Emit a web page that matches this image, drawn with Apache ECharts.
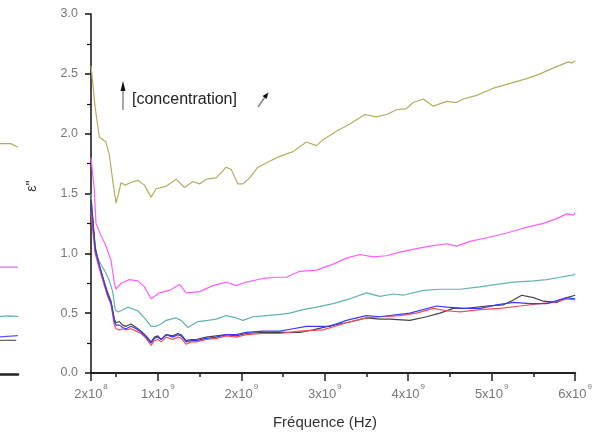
<!DOCTYPE html>
<html>
<head>
<meta charset="utf-8">
<script src="https://cdn.jsdelivr.net/npm/echarts@6/dist/echarts.min.js"></script>
<style>
  html, body { margin: 0; padding: 0; background: #fff; }
  #chart { width: 595px; height: 433px; }
</style>
</head>
<body>
<div id="chart"></div>
<script>
// Dielectric loss ε'' versus frequency (GHz), one curve per concentration.
// Each curve: [frequency in GHz, ε''].
const olive = [[0.2,2.57],[0.25,2.22],[0.30,1.97],[0.38,1.93],[0.42,1.82],[0.46,1.61],[0.50,1.42],[0.53,1.50],[0.56,1.59],[0.61,1.57],[0.67,1.59],[0.76,1.61],[0.84,1.57],[0.92,1.47],[0.98,1.54],[1.04,1.55],[1.10,1.56],[1.16,1.59],[1.22,1.62],[1.32,1.55],[1.42,1.60],[1.50,1.58],[1.58,1.62],[1.70,1.63],[1.82,1.72],[1.88,1.70],[1.96,1.58],[2.02,1.58],[2.10,1.63],[2.20,1.72],[2.34,1.77],[2.46,1.81],[2.62,1.85],[2.78,1.93],[2.90,1.90],[2.98,1.95],[3.14,2.02],[3.30,2.08],[3.48,2.16],[3.62,2.14],[3.74,2.16],[3.86,2.20],[3.98,2.21],[4.06,2.26],[4.18,2.29],[4.30,2.23],[4.46,2.27],[4.58,2.26],[4.66,2.29],[4.82,2.32],[5.02,2.38],[5.22,2.42],[5.42,2.46],[5.58,2.50],[5.74,2.55],[5.92,2.60],[5.96,2.59],[6.0,2.61]];
const magenta = [[0.2,1.80],[0.24,1.53],[0.26,1.25],[0.32,1.15],[0.38,1.06],[0.44,0.94],[0.48,0.75],[0.50,0.70],[0.56,0.75],[0.66,0.78],[0.76,0.77],[0.84,0.72],[0.92,0.62],[1.02,0.67],[1.14,0.69],[1.26,0.74],[1.34,0.67],[1.50,0.68],[1.66,0.73],[1.82,0.76],[1.94,0.73],[2.06,0.76],[2.26,0.79],[2.42,0.80],[2.54,0.80],[2.70,0.85],[2.90,0.86],[3.10,0.91],[3.26,0.96],[3.42,0.99],[3.58,0.97],[3.74,0.98],[3.90,1.01],[4.10,1.04],[4.26,1.06],[4.46,1.08],[4.58,1.06],[4.74,1.10],[4.94,1.13],[5.18,1.17],[5.38,1.21],[5.62,1.25],[5.78,1.29],[5.90,1.33],[5.98,1.32],[6.0,1.34]];
const teal = [[0.2,1.50],[0.23,1.20],[0.26,1.00],[0.30,0.93],[0.36,0.86],[0.42,0.77],[0.46,0.68],[0.49,0.53],[0.52,0.51],[0.56,0.52],[0.64,0.55],[0.76,0.52],[0.84,0.46],[0.92,0.39],[0.98,0.39],[1.04,0.41],[1.10,0.44],[1.22,0.46],[1.28,0.44],[1.36,0.38],[1.48,0.43],[1.60,0.44],[1.70,0.45],[1.82,0.48],[1.94,0.46],[2.02,0.44],[2.14,0.47],[2.30,0.48],[2.46,0.49],[2.58,0.50],[2.74,0.53],[2.90,0.55],[3.10,0.58],[3.30,0.62],[3.50,0.67],[3.66,0.64],[3.82,0.66],[3.94,0.65],[4.18,0.69],[4.38,0.70],[4.62,0.70],[4.86,0.72],[5.06,0.74],[5.26,0.76],[5.50,0.77],[5.66,0.78],[5.82,0.80],[5.98,0.82],[6.0,0.83]];
const black = [[0.2,1.45],[0.22,1.30],[0.25,1.05],[0.30,0.90],[0.36,0.76],[0.40,0.67],[0.44,0.60],[0.48,0.45],[0.50,0.42],[0.54,0.43],[0.58,0.40],[0.62,0.39],[0.68,0.41],[0.74,0.38],[0.80,0.35],[0.86,0.31],[0.92,0.26],[0.96,0.30],[1.00,0.31],[1.04,0.28],[1.10,0.32],[1.18,0.31],[1.24,0.33],[1.28,0.32],[1.34,0.27],[1.40,0.28],[1.46,0.28],[1.58,0.30],[1.70,0.31],[1.82,0.32],[1.94,0.31],[2.06,0.33],[2.26,0.34],[2.42,0.34],[2.56,0.34],[2.70,0.34],[2.86,0.36],[3.10,0.40],[3.26,0.42],[3.50,0.46],[3.66,0.45],[3.78,0.45],[4.02,0.44],[4.22,0.47],[4.38,0.50],[4.54,0.54],[4.70,0.54],[4.94,0.56],[5.14,0.57],[5.26,0.61],[5.36,0.65],[5.50,0.63],[5.62,0.60],[5.78,0.59],[5.90,0.63],[6.0,0.65]];
const red = [[0.2,1.35],[0.22,1.20],[0.25,1.00],[0.30,0.87],[0.36,0.73],[0.40,0.64],[0.44,0.57],[0.48,0.40],[0.50,0.37],[0.54,0.36],[0.58,0.37],[0.62,0.36],[0.68,0.37],[0.74,0.35],[0.80,0.33],[0.86,0.29],[0.92,0.23],[0.96,0.27],[1.00,0.28],[1.04,0.26],[1.10,0.30],[1.18,0.28],[1.24,0.30],[1.28,0.29],[1.34,0.24],[1.40,0.26],[1.46,0.26],[1.58,0.28],[1.70,0.29],[1.82,0.31],[1.94,0.30],[2.06,0.32],[2.26,0.33],[2.46,0.33],[2.70,0.35],[2.98,0.36],[3.26,0.42],[3.50,0.46],[3.66,0.47],[3.90,0.48],[4.10,0.50],[4.30,0.54],[4.46,0.52],[4.62,0.51],[4.86,0.53],[5.10,0.54],[5.34,0.56],[5.58,0.58],[5.74,0.59],[5.90,0.62],[6.0,0.61]];
const blue = [[0.2,1.40],[0.22,1.28],[0.25,1.03],[0.30,0.90],[0.36,0.75],[0.40,0.65],[0.44,0.59],[0.48,0.43],[0.50,0.40],[0.54,0.40],[0.58,0.38],[0.62,0.37],[0.68,0.39],[0.74,0.37],[0.80,0.34],[0.86,0.30],[0.92,0.25],[0.96,0.29],[1.00,0.30],[1.04,0.28],[1.10,0.32],[1.18,0.30],[1.24,0.32],[1.28,0.31],[1.34,0.26],[1.40,0.27],[1.46,0.27],[1.58,0.29],[1.70,0.30],[1.82,0.32],[1.94,0.32],[2.06,0.34],[2.26,0.35],[2.46,0.35],[2.62,0.37],[2.78,0.39],[3.06,0.39],[3.26,0.44],[3.50,0.48],[3.66,0.47],[4.02,0.50],[4.34,0.56],[4.46,0.55],[4.66,0.54],[4.86,0.54],[5.06,0.57],[5.26,0.59],[5.46,0.58],[5.66,0.58],[5.90,0.63],[6.0,0.62]];

// Right-hand ends of the neighbouring panel's curves.
const sideOlive = [[0,1.92],[0.6,1.92],[1,1.89]];
const sideMagenta = [[0,0.89],[1,0.89]];
const sideTeal = [[0,0.48],[0.5,0.485],[1,0.48]];
const sideBlue = [[0,0.31],[1,0.32]];
const sideGray = [[0,0.28],[0.9,0.28]];

// Axis ticks (GHz) and labels.
const majorTicks = [0.2, 1, 2, 3, 4, 5, 6];
const minorTicks = [0.5, 1.5, 2.5, 3.5, 4.5, 5.5];
const xTitle = 'Fréquence (Hz)';
const yTitle = "ε''";
const noteText = '[concentration]';

const FONT = 'Liberation Sans, Arial, sans-serif';
const chart = echarts.init(document.getElementById('chart'), null, { renderer: 'canvas' });

function line(name, data, color, xi, yi) {
  return {
    name, type: 'line', data, xAxisIndex: xi || 0, yAxisIndex: yi || 0,
    showSymbol: false, symbol: 'none', smooth: false, silent: true,
    lineStyle: { color, width: 1.2 }
  };
}

chart.setOption({
  animation: false,
  backgroundColor: '#fff',
  grid: [
    { left: 91, right: 17, top: 14, bottom: 60 },
    { left: 0, width: 18, top: 14, bottom: 59 }
  ],
  xAxis: [
    {
      type: 'value', gridIndex: 0, min: 0.2, max: 6,
      axisLine: { show: true, onZero: false, lineStyle: { color: '#222', width: 2 } },
      axisTick: { show: true, inside: false, length: 8, customValues: majorTicks, lineStyle: { color: '#222', width: 1.5 } },
      axisLabel: {
        customValues: majorTicks, margin: 10, color: '#777', fontFamily: FONT, fontSize: 13, lineHeight: 22,
        formatter: v => (Math.abs(v - 0.2) < 1e-9 ? '{n|2x10}{s|8}' : '{n|' + Math.round(v) + 'x10}{s|9}'),
        rich: {
          n: { fontSize: 13, color: '#777', fontFamily: FONT, lineHeight: 22, verticalAlign: 'middle' },
          s: { fontSize: 8, color: '#777', fontFamily: FONT, lineHeight: 12, verticalAlign: 'top', padding: [0, 0, 0, 1] }
        }
      },
      splitLine: { show: false }
    },
    {
      type: 'value', gridIndex: 0, min: 0.2, max: 6, position: 'bottom',
      axisLine: { show: false },
      axisTick: { show: true, length: 4, customValues: minorTicks, lineStyle: { color: '#222', width: 1.5 } },
      axisLabel: { show: false },
      splitLine: { show: false }
    },
    {
      type: 'value', gridIndex: 1, min: 0, max: 1,
      axisLine: { show: true, onZero: false, lineStyle: { color: '#222', width: 2.5 } },
      axisTick: { show: false }, axisLabel: { show: false }, splitLine: { show: false }
    }
  ],
  yAxis: [
    {
      type: 'value', gridIndex: 0, min: 0, max: 3, interval: 0.5,
      axisLine: { show: true, lineStyle: { color: '#111', width: 1.5 } },
      axisTick: { show: true, length: 6, lineStyle: { color: '#111', width: 1.5 } },
      minorTick: { show: true, splitNumber: 2, length: 4, lineStyle: { color: '#111', width: 1.2 } },
      axisLabel: { margin: 13, color: '#777', fontFamily: FONT, fontSize: 12.5, formatter: v => v.toFixed(1) },
      splitLine: { show: false }
    },
    {
      type: 'value', gridIndex: 1, min: 0, max: 3, show: false
    }
  ],
  series: [
    line('c6', olive, '#b3ae5e'),
    line('c5', magenta, '#ff5cff'),
    line('c4', teal, '#5fb3b3'),
    line('c3', black, '#444444'),
    line('c2', red, '#ff4d4d'),
    line('c1', blue, '#3a3aff'),
    line('s6', sideOlive, '#b3ae5e', 2, 1),
    line('s5', sideMagenta, '#ff5cff', 2, 1),
    line('s4', sideTeal, '#5fb3b3', 2, 1),
    line('s2', sideGray, '#666666', 2, 1),
    line('s1', sideBlue, '#5555ff', 2, 1)
  ],
  graphic: [
    { type: 'text', x: 325, y: 423, style: { text: xTitle, font: '15px ' + FONT, fill: '#333', align: 'center', verticalAlign: 'middle' } },
    { type: 'text', x: 32, y: 186, rotation: Math.PI / 2, style: { text: yTitle, font: '14px ' + FONT, fill: '#333', align: 'center', verticalAlign: 'middle' } },
    { type: 'text', x: 132, y: 100, style: { text: noteText, font: '16px ' + FONT, fill: '#222', align: 'left', verticalAlign: 'middle' } },
    // upward arrow before the note
    { type: 'line', shape: { x1: 123, y1: 110, x2: 123, y2: 88 }, style: { stroke: '#888', lineWidth: 1.5 } },
    { type: 'polygon', shape: { points: [[123, 81], [120.5, 91], [125.5, 91]] }, style: { fill: '#111' } },
    // diagonal arrow after the note
    { type: 'line', shape: { x1: 258, y1: 107, x2: 265, y2: 97 }, style: { stroke: '#888', lineWidth: 1.5 } },
    { type: 'polygon', shape: { points: [[268.5, 92.5], [262.5, 96], [266.5, 99]] }, style: { fill: '#111' } }
  ]
});
</script>
</body>
</html>
